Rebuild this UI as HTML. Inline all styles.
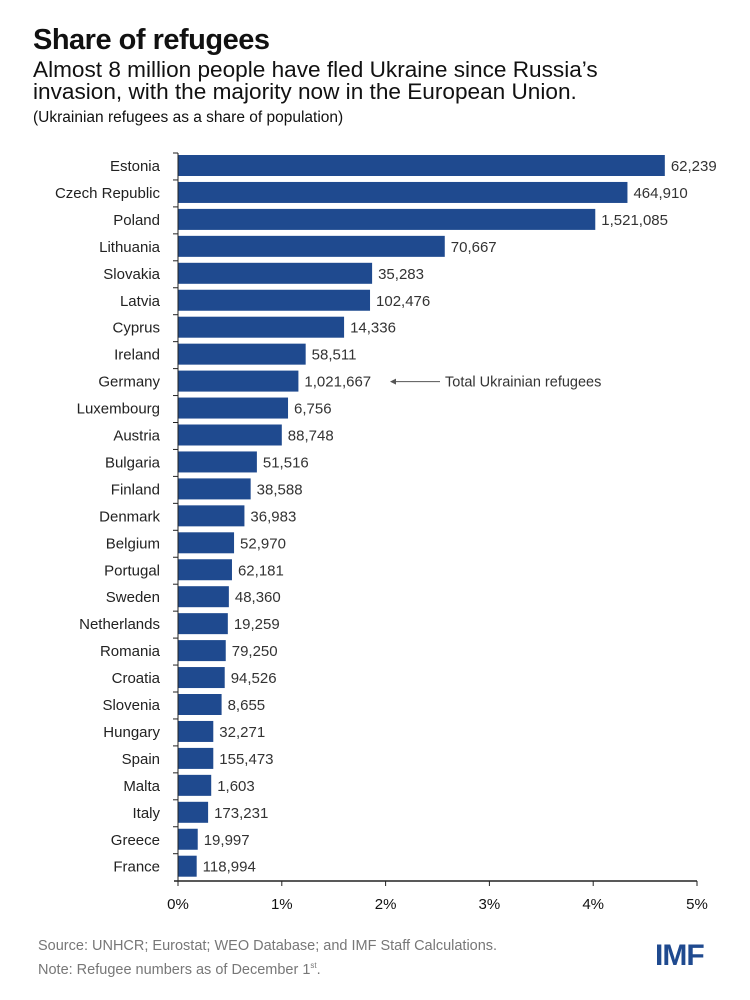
<!DOCTYPE html>
<html><head><meta charset="utf-8">
<style>
body{margin:0;background:#fff;font-family:"Liberation Sans",sans-serif;}
#wrap{position:relative;width:750px;height:1000px;overflow:hidden;}
.t{position:absolute;white-space:nowrap;color:#111;}
</style></head>
<body><div id="wrap">
<div class="t" style="left:33px;top:24px;font-size:29px;font-weight:bold;letter-spacing:-0.5px;">Share of refugees</div>
<div class="t" style="left:33px;top:59px;font-size:22.6px;line-height:22px;">Almost 8 million people have fled Ukraine since Russia’s<br>invasion, with the majority now in the European Union.</div>
<div class="t" style="left:33px;top:109px;font-size:15.5px;">(Ukrainian refugees as a share of population)</div>
<svg id="chart" width="750" height="1000" style="position:absolute;left:0;top:0"></svg>
<div class="t" style="left:38px;top:937px;font-size:14.5px;color:#777;line-height:19px;">Source: UNHCR; Eurostat; WEO Database; and IMF Staff Calculations.<br>Note: Refugee numbers as of December 1<sup style="font-size:8px">st</sup>.</div>
<div class="t" style="left:655px;top:939px;font-size:30px;font-weight:bold;color:#1f4a8f;letter-spacing:-1px;">IMF</div>
</div>
<script>
const countries=["Estonia","Czech Republic","Poland","Lithuania","Slovakia","Latvia","Cyprus","Ireland","Germany","Luxembourg","Austria","Bulgaria","Finland","Denmark","Belgium","Portugal","Sweden","Netherlands","Romania","Croatia","Slovenia","Hungary","Spain","Malta","Italy","Greece","France"];
const shares=[4.69,4.33,4.02,2.57,1.87,1.85,1.60,1.23,1.16,1.06,1.00,0.76,0.70,0.64,0.54,0.52,0.49,0.48,0.46,0.45,0.42,0.34,0.34,0.32,0.29,0.19,0.18];
const refugees=["62,239","464,910","1,521,085","70,667","35,283","102,476","14,336","58,511","1,021,667","6,756","88,748","51,516","38,588","36,983","52,970","62,181","48,360","19,259","79,250","94,526","8,655","32,271","155,473","1,603","173,231","19,997","118,994"];
const ticks=[0,1,2,3,4,5];
const tickLabels=["0%","1%","2%","3%","4%","5%"];
const svg=document.getElementById('chart');
const NS="http://www.w3.org/2000/svg";
const x0=178,x1=697,topY=153,step=26.95,bh=21,axisY=881;
const xs=v=>x0+(v-0)/(5-0)*(x1-x0);
const ys=i=>topY+i*step;
function mk(t,a){const e=document.createElementNS(NS,t);for(const k in a)e.setAttribute(k,a[k]);svg.appendChild(e);return e;}
countries.forEach((c,i)=>{
 const y=ys(i);
 const r=mk('rect',{x:xs(0),y:y+2,width:xs(shares[i])-xs(0),height:bh,fill:'#1f4a8f'});
 
 
 const l=mk('text',{x:160,y:y+18,'text-anchor':'end','font-size':15,fill:'#222','font-family':'Liberation Sans, sans-serif'});
 l.textContent=c;
 
 
 const v=mk('text',{x:xs(shares[i])+6,y:y+18,'font-size':15,fill:'#333','font-family':'Liberation Sans, sans-serif'});
 v.textContent=refugees[i];
 
 
 const tk=mk('line',{x1:x0-5,x2:x0,y1:y,y2:y,stroke:'#222','stroke-width':1});
 
 
});
const ya=mk('line',{x1:x0,x2:x0,y1:topY,y2:axisY,stroke:'#222','stroke-width':1});


const xa=mk('line',{x1:x0-4,x2:x1,y1:axisY,y2:axisY,stroke:'#222','stroke-width':1.5});


ticks.forEach((t,i)=>{
 const l=mk('line',{x1:xs(t),x2:xs(t),y1:axisY,y2:axisY+5,stroke:'#222'});
 
 
 const tx=mk('text',{x:xs(t),y:axisY+28,'text-anchor':'middle','font-size':15,fill:'#111','font-family':'Liberation Sans, sans-serif'});
 tx.textContent=tickLabels[i];
 
 
});
const gi=countries.indexOf("Germany");
const ay=ys(gi)+13;
const ar=mk('line',{x1:392,x2:440,y1:ay,y2:ay,stroke:'#555','stroke-width':1});


const ah=mk('path',{d:`M390 ${ay} l6 -3 v6 z`,fill:'#555'});


const at=mk('text',{x:445,y:ay+5,'font-size':14.5,fill:'#333','font-family':'Liberation Sans, sans-serif'});
at.textContent="Total Ukrainian refugees";


</script>
</body></html>
